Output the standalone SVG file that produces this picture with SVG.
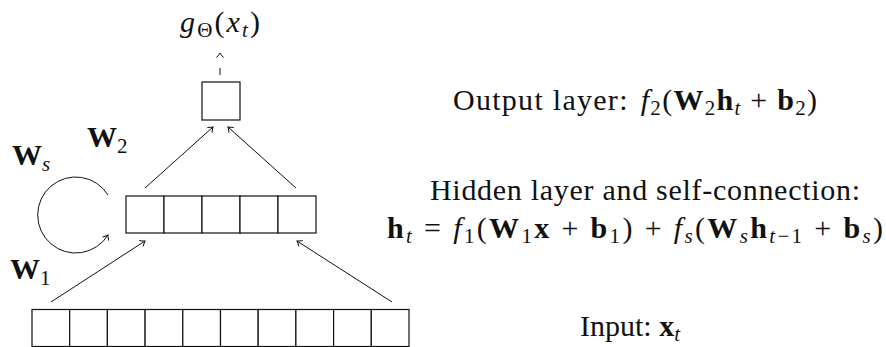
<svg xmlns="http://www.w3.org/2000/svg" width="886" height="347" viewBox="0 0 886 347" font-family="'Liberation Serif', 'DejaVu Serif', serif">
<style>
text { font-family: "Liberation Serif", "DejaVu Serif", serif; fill: #111; }
.t { font-size: 30px; }
.it { font-style: italic; }
.bf { font-weight: bold; }
.sub { font-size: 21px; }
.cell { fill: #fff; stroke: #111; stroke-width: 1.2; }
.conn { fill: none; stroke: #111; stroke-width: 1; }
</style>
<defs>
<marker id="ah" viewBox="-6 -5 8 10" markerWidth="8" markerHeight="10" markerUnits="userSpaceOnUse" orient="auto" refX="0" refY="0">
<path d="M -4.5 -3.5 Q -1.5 -0.8 0 0 Q -1.5 0.8 -4.5 3.5" fill="none" stroke="#111" stroke-width="1"/>
</marker>
</defs>
<rect width="886" height="347" fill="#fff"/>

<g id="output-node">
<rect class="cell" x="202" y="82" width="38" height="38"/>
</g>

<g id="hidden-layer">
<rect class="cell" x="126" y="196" width="38" height="37"/>
<rect class="cell" x="164" y="196" width="38" height="37"/>
<rect class="cell" x="202" y="196" width="38" height="37"/>
<rect class="cell" x="240" y="196" width="38" height="37"/>
<rect class="cell" x="278" y="196" width="38" height="37"/>
</g>

<g id="input-layer">
<rect class="cell" x="32" y="309.5" width="37.7" height="37"/>
<rect class="cell" x="69.7" y="309.5" width="37.7" height="37"/>
<rect class="cell" x="107.4" y="309.5" width="37.7" height="37"/>
<rect class="cell" x="145.1" y="309.5" width="37.7" height="37"/>
<rect class="cell" x="182.8" y="309.5" width="37.7" height="37"/>
<rect class="cell" x="220.5" y="309.5" width="37.7" height="37"/>
<rect class="cell" x="258.2" y="309.5" width="37.7" height="37"/>
<rect class="cell" x="295.9" y="309.5" width="37.7" height="37"/>
<rect class="cell" x="333.6" y="309.5" width="37.7" height="37"/>
<rect class="cell" x="371.3" y="309.5" width="37.7" height="37"/>
</g>

<g id="connectors">
<path class="conn" d="M 220 82 L 220 53" stroke-dasharray="0 7 7 100" marker-end="url(#ah)"/>
<path class="conn" d="M 145 188 L 213 127" marker-end="url(#ah)"/>
<path class="conn" d="M 296 188 L 228 127" marker-end="url(#ah)"/>
<path class="conn" d="M 51 302 L 145 241" marker-end="url(#ah)"/>
<path class="conn" d="M 392 302 L 297 241" marker-end="url(#ah)"/>
<path class="conn" d="M 108 195 A 38 38 0 1 0 108 235" marker-end="url(#ah)"/>
</g>

<g id="output-label">
<text class="t" x="180" y="32" textLength="80" lengthAdjust="spacing"><tspan class="it">g</tspan><tspan class="sub" dy="5">Θ</tspan><tspan dy="-5">(</tspan><tspan class="it">x</tspan><tspan class="sub it" dy="5">t</tspan><tspan dy="-5">)</tspan></text>
</g>

<g id="weight-labels">
<text class="t" x="12" y="165"><tspan class="bf">W</tspan><tspan class="sub it" dy="6">s</tspan></text>
<text class="t" x="87" y="147"><tspan class="bf">W</tspan><tspan class="sub" dy="6">2</tspan></text>
<text class="t" x="10" y="279"><tspan class="bf">W</tspan><tspan class="sub" dy="6">1</tspan></text>
</g>

<g id="descriptions">
<text class="t" x="453" y="110" textLength="364" lengthAdjust="spacing">Output layer:<tspan dx="12" class="it">f</tspan><tspan class="sub" dy="5">2</tspan><tspan dy="-5">(</tspan><tspan class="bf">W</tspan><tspan class="sub" dy="5">2</tspan><tspan class="bf" dy="-5">h</tspan><tspan class="sub it" dy="5">t</tspan><tspan dy="-5"> + </tspan><tspan class="bf">b</tspan><tspan class="sub" dy="5">2</tspan><tspan dy="-5">)</tspan></text>
<text class="t" x="645" y="200" text-anchor="middle" textLength="430" lengthAdjust="spacing">Hidden layer and self-connection:</text>
<text class="t" x="387" y="238" textLength="496" lengthAdjust="spacing"><tspan class="bf">h</tspan><tspan class="sub it" dy="5">t</tspan><tspan dy="-5"> = </tspan><tspan class="it">f</tspan><tspan class="sub" dy="5">1</tspan><tspan dy="-5">(</tspan><tspan class="bf">W</tspan><tspan class="sub" dy="5">1</tspan><tspan class="bf" dy="-5">x</tspan><tspan> + </tspan><tspan class="bf">b</tspan><tspan class="sub" dy="5">1</tspan><tspan dy="-5">) + </tspan><tspan class="it">f</tspan><tspan class="sub it" dy="5">s</tspan><tspan dy="-5">(</tspan><tspan class="bf">W</tspan><tspan class="sub it" dy="5">s</tspan><tspan class="bf" dy="-5">h</tspan><tspan class="sub" dy="5"><tspan class="it">t</tspan>−1</tspan><tspan dy="-5"> + </tspan><tspan class="bf">b</tspan><tspan class="sub it" dy="5">s</tspan><tspan dy="-5">)</tspan></text>
<text class="t" x="580" y="336">Input: <tspan class="bf">x</tspan><tspan class="sub it" dy="5">t</tspan></text>
</g>
</svg>
